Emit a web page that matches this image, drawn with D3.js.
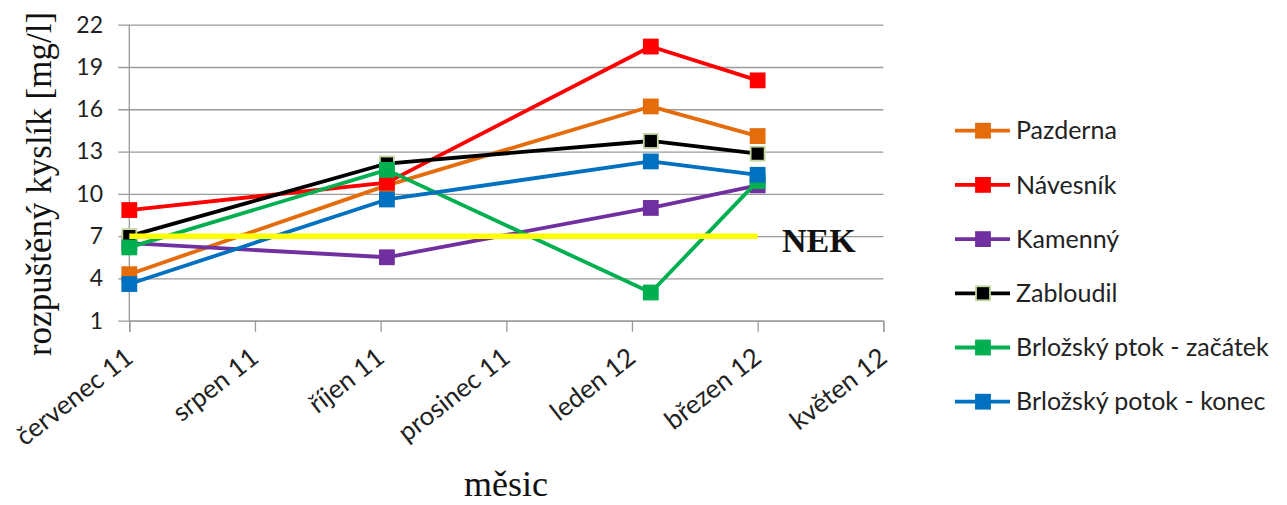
<!DOCTYPE html>
<html>
<head>
<meta charset="utf-8">
<script src="https://cdn.jsdelivr.net/npm/d3@7"></script>
<style>
  html, body { margin: 0; padding: 0; background: #fff; }
  svg { display: block; }
</style>
</head>
<body>
<svg id="chart" width="1287" height="505"></svg>
<script>
// ---- data ----
const monthLabels = ["červenec 11", "srpen 11", "říjen 11", "prosinec 11", "leden 12", "březen 12", "květen 12"];
const samplePositions = [0, 2.05, 4.15, 5];   // sampling dates in axis-tick units
const yTicks = [1, 4, 7, 10, 13, 16, 19, 22];
const seriesNames = ["Pazderna", "Návesník", "Kamenný", "Zabloudil", "Brložský ptok - začátek", "Brložský potok - konec"];
const pazderna   = [4.3, 10.6, 16.2, 14.1];
const navesnik   = [8.85, 10.8, 20.45, 18.05];
const kamenny    = [6.5, 5.5, 9.0, 10.6];
const zabloudil  = [7.0, 12.15, 13.75, 12.85];
const brlozZac   = [6.2, 11.7, 3.0, 10.9];
const brlozKon   = [3.6, 9.6, 12.3, 11.35];
const nekValue = 7;
const nekLabel = "NEK";
const xTitle = "měsic";
const yTitle = "rozpuštěný kyslík [mg/l]";

const seriesValues = [pazderna, navesnik, kamenny, zabloudil, brlozZac, brlozKon];
const colors = ["#E46C0A", "#FF0000", "#7030A0", "#000000", "#00B050", "#0070C0"];
const markerStroke = ["#E46C0A", "#FF0000", "#7030A0", "#C3D69B", "#00B050", "#0070C0"];

// ---- layout ----
const svg = d3.select("#chart");
const x = d3.scaleLinear().domain([0, 6]).range([129.3, 883.3]);
const y = d3.scaleLinear().domain([1, 22]).range([320.7, 24.7]);
const sansFont = "Lato, 'Open Sans', sans-serif";
const serifFont = "'Liberation Serif', 'DejaVu Serif', serif";

// gridlines + y ticks
const yAxis = d3.axisLeft(y).tickValues(yTicks).tickSize(-(x.range()[1] - x.range()[0]) - 11).tickPadding(15);
const gy = svg.append("g").attr("transform", `translate(${x.range()[0] - 11},0)`).call(yAxis);
gy.select(".domain").remove();
gy.selectAll(".tick line").attr("stroke", "#9a9a9a").attr("stroke-width", 1.3);
gy.selectAll(".tick text")
  .attr("font-family", sansFont).attr("font-size", 23).attr("fill", "#222")
  .attr("x", 103 - (x.range()[0] - 11)).attr("text-anchor", "end");

// vertical axis line
svg.append("line")
  .attr("x1", x(0)).attr("x2", x(0)).attr("y1", y(22)).attr("y2", y(1))
  .attr("stroke", "#9a9a9a").attr("stroke-width", 1.3);

// x axis ticks
const xAxis = d3.axisBottom(x).tickValues(d3.range(monthLabels.length)).tickSize(11).tickFormat(i => monthLabels[i]);
const gx = svg.append("g").attr("transform", `translate(0,${y(1)})`).call(xAxis);
gx.select(".domain").attr("stroke", "#9a9a9a").attr("stroke-width", 1.3);
gx.selectAll(".tick line").attr("stroke", "#9a9a9a").attr("stroke-width", 1.3);
gx.selectAll(".tick text")
  .attr("font-family", sansFont).attr("font-size", 26).attr("fill", "#222")
  .attr("text-anchor", "end").attr("dy", 0).attr("y", 0)
  .attr("transform", "translate(5,40) rotate(-38)");

// series lines + markers
const line = d3.line().x((d, i) => x(samplePositions[i])).y(d => y(d));
const ms = 14;
seriesValues.forEach((vals, s) => {
  const g = svg.append("g");
  g.append("path").datum(vals).attr("d", line)
    .attr("fill", "none").attr("stroke", colors[s]).attr("stroke-width", 3.8).attr("stroke-linejoin", "round");
  g.selectAll("rect").data(vals).join("rect")
    .attr("x", (d, i) => x(samplePositions[i]) - ms / 2)
    .attr("y", d => y(d) - ms / 2)
    .attr("width", ms).attr("height", ms)
    .attr("fill", colors[s]).attr("stroke", markerStroke[s]).attr("stroke-width", 1.8);
});

// NEK line
svg.append("line")
  .attr("x1", x(0)).attr("x2", x(5)).attr("y1", y(nekValue)).attr("y2", y(nekValue))
  .attr("stroke", "#FFFF00").attr("stroke-width", 5.5);
svg.append("text").text(nekLabel)
  .attr("x", 782).attr("y", y(nekValue) + 16)
  .attr("font-family", serifFont).attr("font-weight", "bold").attr("font-size", 34).attr("fill", "#111");

// axis titles
svg.append("text").text(yTitle)
  .attr("transform", "translate(51,184) rotate(-90)")
  .attr("text-anchor", "middle")
  .attr("font-family", serifFont).attr("font-size", 35).attr("fill", "#111");
svg.append("text").text(xTitle)
  .attr("x", 506).attr("y", 496).attr("text-anchor", "middle")
  .attr("font-family", serifFont).attr("font-size", 36).attr("fill", "#111");

// legend
const legY = d3.scaleLinear().domain([0, 5]).range([130.7, 401.7]);
const leg = svg.append("g");
seriesNames.forEach((name, s) => {
  const gy2 = legY(s);
  leg.append("line").attr("x1", 955).attr("x2", 1010).attr("y1", gy2).attr("y2", gy2)
    .attr("stroke", colors[s]).attr("stroke-width", 3.8);
  leg.append("rect").attr("x", 983 - ms / 2).attr("y", gy2 - ms / 2).attr("width", ms).attr("height", ms)
    .attr("fill", colors[s]).attr("stroke", markerStroke[s]).attr("stroke-width", 1.8);
  leg.append("text").text(name).attr("x", 1016).attr("y", gy2).attr("dy", "0.35em")
    .attr("font-family", sansFont).attr("font-size", 25).attr("fill", "#222");
});
</script>
</body>
</html>
